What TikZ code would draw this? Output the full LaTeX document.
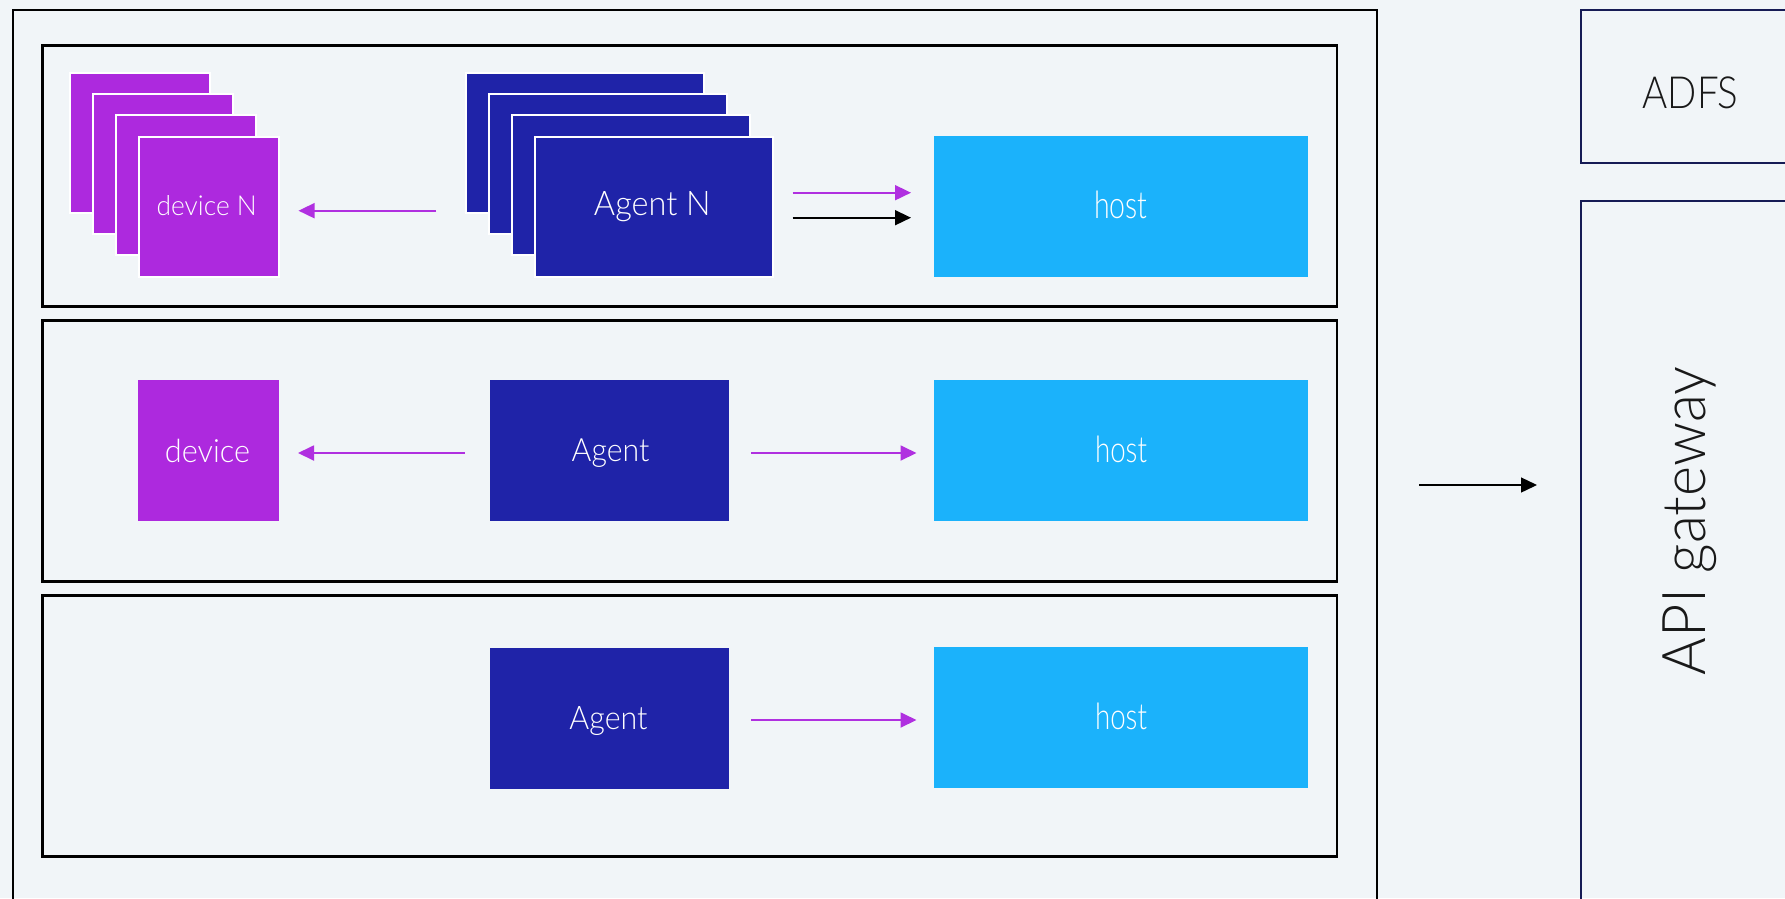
\documentclass[tikz,border=0pt]{standalone}
\usepackage{graphicx}
\usepackage{fontspec}
\setmainfont{Lato Light}
\usetikzlibrary{arrows.meta}

\definecolor{bg}{HTML}{F1F5F8}
\definecolor{devpurple}{HTML}{AD29DE}
\definecolor{agblue}{HTML}{1F23A8}
\definecolor{hostblue}{HTML}{1BB2FB}
\definecolor{linkpurple}{HTML}{B030E0}
\definecolor{navy}{HTML}{161B55}

% label text stretched to a given width and cap/ascender height (in px)
\newcommand{\fitlabel}[3]{\resizebox{#1pt}{#2pt}{#3}}

\tikzset{
  x=1pt, y=-1pt,
  frame/.style={draw=black, line width=2.3pt, fill=none, inner sep=0pt},
  lane/.style={draw=black, line width=2.6pt, fill=none, inner sep=0pt,
               minimum width=1294.5pt, minimum height=261pt},
  gatebox/.style={draw=navy, line width=2.4pt, fill=none, inner sep=0pt},
  devbox/.style={fill=devpurple, inner sep=0pt, minimum width=141pt, minimum height=141pt},
  devcard/.style={devbox, draw=white, line width=2pt, minimum width=140pt, minimum height=140pt},
  agbox/.style={fill=agblue, inner sep=0pt, minimum width=239pt, minimum height=141pt},
  agcard/.style={agbox, draw=white, line width=2pt, minimum width=238pt, minimum height=140pt},
  hostbox/.style={fill=hostblue, inner sep=0pt, minimum width=374pt, minimum height=141pt},
  lbl/.style={text=white, inner sep=0pt, anchor=base},
  darklbl/.style={text=black!90, inner sep=0pt, anchor=base},
  parrow/.style={draw=linkpurple, line width=1.8pt, -{Triangle[length=16pt,width=15pt]}},
  karrow/.style={draw=black, line width=1.6pt, -{Triangle[length=16pt,width=15pt]}},
}

\begin{document}
\begin{tikzpicture}
  \useasboundingbox (0,0) rectangle (1785,898);
  \fill[bg] (0,0) rectangle (1785,898);
  \clip (0,0) rectangle (1785,898);

  % enclosing frame and the three lanes
  \node[frame, anchor=north west, minimum width=1364.5pt, minimum height=930pt] (outer) at (11.5,9) {};
  \node[lane] (lane1) at (689.75,175.75) {};
  \node[lane] (lane2) at (689.75,451) {};
  \node[lane] (lane3) at (689.75,725.75) {};

  % right-hand services
  \node[gatebox, anchor=north west, minimum width=300pt, minimum height=152.5pt] (adfsbox) at (1580,9) {};
  \node[gatebox, anchor=north west, minimum width=300pt, minimum height=760pt] (apibox) at (1580,200) {};
  \node[darklbl] (adfs) at (1690.5,108.5) {\fitlabel{95.7}{31.7}{ADFS}};
  \node[darklbl, rotate=90] (api) at (1705,521) {\fitlabel{308}{42.7}{API gateway}};

  % lane 1: stacked devices and agents
  \foreach \i in {0,1,2,3} {
    \node[devcard] (devN\i) at ({139.8+23*\i},{142.7+21.3*\i}) {};
  }
  \foreach \i in {0,1,2,3} {
    \node[agcard] (agN\i) at ({585.2+23*\i},{142.7+21.3*\i}) {};
  }
  \node[hostbox] (host1) at (1120.5,206.8) {};
  \node[lbl] (devNlbl) at (206.7,215.3) {\fitlabel{100}{20}{device N}};
  \node[lbl] (agNlbl) at (652.3,215.3) {\fitlabel{116.7}{24}{Agent N}};
  \node[lbl] (host1lbl) at (1121,218.5) {\fitlabel{53.5}{27.5}{host}};

  % lane 2
  \node[devbox] (dev2) at (208.4,450.7) {};
  \node[agbox] (ag2) at (609,450.7) {};
  \node[hostbox] (host2) at (1120.5,450.7) {};
  \node[lbl] (dev2lbl) at (207.5,462) {\fitlabel{85}{23.3}{device}};
  \node[lbl] (ag2lbl) at (610.5,461.3) {\fitlabel{77.6}{22.7}{Agent}};
  \node[lbl] (host2lbl) at (1121,462) {\fitlabel{52}{26.5}{host}};

  % lane 3
  \node[agbox] (ag3) at (609,718) {};
  \node[hostbox] (host3) at (1120.5,717.8) {};
  \node[lbl] (ag3lbl) at (608.5,729.5) {\fitlabel{78}{23}{Agent}};
  \node[lbl] (host3lbl) at (1121,729.3) {\fitlabel{52}{26.5}{host}};

  % connector end points
  \coordinate (r1from) at (436,210.7);   \coordinate (r1to) at (298.5,210.7);
  \coordinate (h1pfrom) at (792.5,192.7); \coordinate (h1pto) at (911,192.7);
  \coordinate (h1kfrom) at (792.5,217.7); \coordinate (h1kto) at (911,217.7);
  \coordinate (r2from) at (464.5,453);   \coordinate (r2to) at (298,453);
  \coordinate (h2from) at (751,453);     \coordinate (h2to) at (916.5,453);
  \coordinate (h3from) at (751,720);     \coordinate (h3to) at (916.5,720);
  \coordinate (gwfrom) at (1419,485);    \coordinate (gwto) at (1537,485);

  \draw[parrow] (r1from) -- (r1to);
  \draw[parrow] (h1pfrom) -- (h1pto);
  \draw[karrow] (h1kfrom) -- (h1kto);
  \draw[parrow] (r2from) -- (r2to);
  \draw[parrow] (h2from) -- (h2to);
  \draw[parrow] (h3from) -- (h3to);
  \draw[karrow, line width=1.3pt] (gwfrom) -- (gwto);
\end{tikzpicture}
\end{document}
